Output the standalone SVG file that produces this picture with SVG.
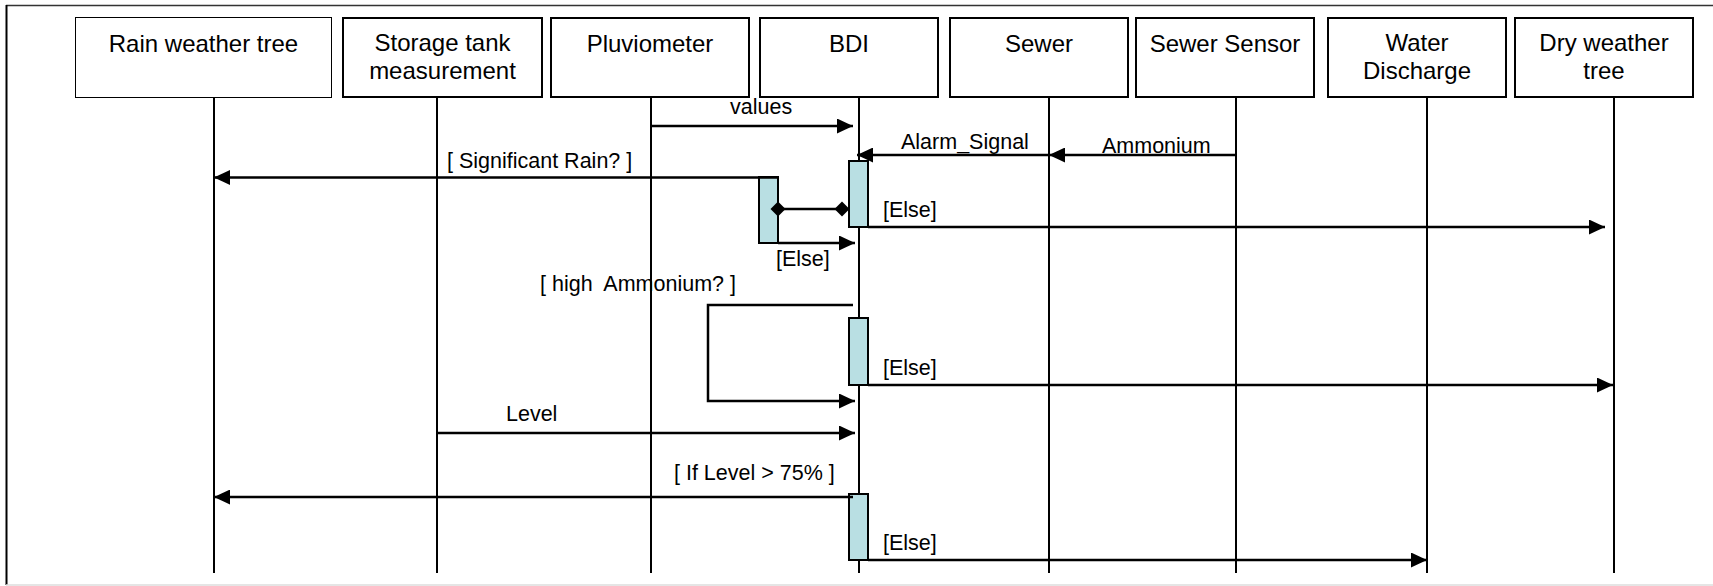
<svg xmlns="http://www.w3.org/2000/svg" width="1713" height="586" viewBox="0 0 1713 586">
<style>
text{font-family:"Liberation Sans",Arial,sans-serif;fill:#000}
.lbl{font-size:24px;text-anchor:middle}
.msg{font-size:21.5px;white-space:pre}
.box{fill:#fff;stroke:#000;stroke-width:2}
.life{stroke:#000;stroke-width:2;fill:none}
.act{fill:#B9DFE3;stroke:#000;stroke-width:2}
.m{stroke:#000;stroke-width:2.5;fill:none}
.ar{marker-end:url(#arrow)}
</style>
<defs>
<marker id="arrow" markerUnits="userSpaceOnUse" markerWidth="16" markerHeight="15" refX="16" refY="7.5" orient="auto">
<path d="M0,0 L16,7.5 L0,15 z" fill="#000"/>
</marker>
<marker id="diamond" markerUnits="userSpaceOnUse" markerWidth="16" markerHeight="16" refX="8" refY="8" orient="auto">
<path d="M0.5,8 L8,0.5 L15.5,8 L8,15.5 z" fill="#000"/>
</marker>
</defs>
<rect x="0" y="0" width="1713" height="586" fill="#fff"/>
<g id="frame">
<line x1="6" y1="5.5" x2="1713" y2="5.5" stroke="#333" stroke-width="1.5"/>
<line x1="6.5" y1="5" x2="6.5" y2="585" stroke="#000" stroke-width="2"/>
<line x1="6" y1="585" x2="1713" y2="585" stroke="#ddd" stroke-width="1.5"/>
</g>
<g id="rain-weather-tree">
<rect class="box" x="75.5" y="17.5" width="256" height="80" style="stroke-width:1"/>
<text class="lbl" x="203.5" y="52">Rain weather tree</text>
<line class="life" x1="214" y1="98" x2="214" y2="573"/>
</g>
<g id="storage-tank">
<rect class="box" x="343" y="18" width="199" height="79"/>
<text class="lbl" x="442.5" y="51">Storage tank</text>
<text class="lbl" x="442.5" y="79">measurement</text>
<line class="life" x1="437" y1="98" x2="437" y2="573"/>
</g>
<g id="pluviometer">
<rect class="box" x="551" y="18" width="198" height="79"/>
<text class="lbl" x="650" y="52">Pluviometer</text>
<line class="life" x1="651" y1="98" x2="651" y2="573"/>
</g>
<g id="bdi">
<rect class="box" x="760" y="18" width="178" height="79"/>
<text class="lbl" x="849" y="52">BDI</text>
<line class="life" x1="859" y1="98" x2="859" y2="573"/>
</g>
<g id="sewer">
<rect class="box" x="950" y="18" width="178" height="79"/>
<text class="lbl" x="1039" y="52">Sewer</text>
<line class="life" x1="1049" y1="98" x2="1049" y2="573"/>
</g>
<g id="sewer-sensor">
<rect class="box" x="1136" y="18" width="178" height="79"/>
<text class="lbl" x="1225" y="52">Sewer Sensor</text>
<line class="life" x1="1236" y1="98" x2="1236" y2="573"/>
</g>
<g id="water-discharge">
<rect class="box" x="1328" y="18" width="178" height="79"/>
<text class="lbl" x="1417" y="51">Water</text>
<text class="lbl" x="1417" y="79">Discharge</text>
<line class="life" x1="1427" y1="98" x2="1427" y2="573"/>
</g>
<g id="dry-weather-tree">
<rect class="box" x="1515" y="18" width="178" height="79"/>
<text class="lbl" x="1604" y="51">Dry weather</text>
<text class="lbl" x="1604" y="79">tree</text>
<line class="life" x1="1614" y1="98" x2="1614" y2="573"/>
</g>
<g id="activations">
<rect class="act" x="759" y="177" width="19" height="66"/>
<rect class="act" x="849" y="161" width="19" height="66"/>
<rect class="act" x="849" y="318" width="19" height="67"/>
<rect class="act" x="849" y="494" width="19" height="66"/>
</g>
<g id="connectors">
<line class="m ar" x1="651" y1="126" x2="853" y2="126"/>
<text class="msg" x="730" y="114">values</text>
<line class="m ar" x1="1049" y1="155" x2="857" y2="155"/>
<text class="msg" x="901" y="149">Alarm_Signal</text>
<line class="m ar" x1="1237" y1="155" x2="1049" y2="155"/>
<text class="msg" x="1102" y="153">Ammonium</text>
<line class="m ar" x1="778" y1="177.5" x2="214" y2="177.5"/>
<text class="msg" x="447" y="168">[ Significant Rain? ]</text>
<line class="m" x1="778" y1="209" x2="842" y2="209" marker-start="url(#diamond)" marker-end="url(#diamond)"/>
<line class="m ar" x1="868" y1="227" x2="1605" y2="227"/>
<text class="msg" x="883" y="217">[Else]</text>
<line class="m ar" x1="778" y1="243" x2="855" y2="243"/>
<text class="msg" x="776" y="266">[Else]</text>
<text class="msg" x="540" y="291">[ high  Ammonium? ]</text>
<path class="m ar" d="M853,305 H708 V401 H855"/>
<line class="m ar" x1="868" y1="385" x2="1613" y2="385"/>
<text class="msg" x="883" y="375">[Else]</text>
<line class="m ar" x1="437" y1="433" x2="855" y2="433"/>
<text class="msg" x="506" y="421">Level</text>
<line class="m ar" x1="853" y1="497" x2="214" y2="497"/>
<text class="msg" x="674" y="480">[ If Level &gt; 75% ]</text>
<line class="m ar" x1="868" y1="560" x2="1427" y2="560"/>
<text class="msg" x="883" y="550">[Else]</text>
</g>
</svg>
